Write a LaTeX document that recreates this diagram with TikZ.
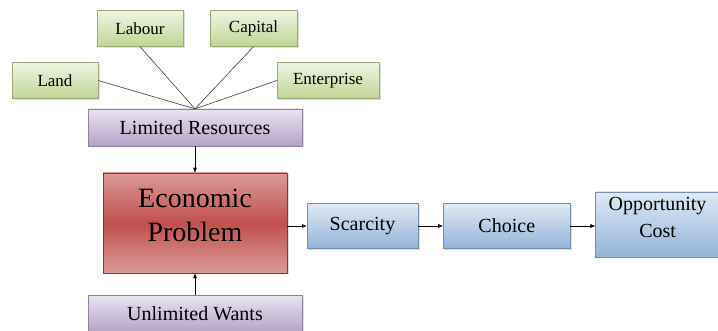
\documentclass[tikz,border=0pt]{standalone}
\usepackage{fontspec}
\setmainfont{Liberation Serif}
\usetikzlibrary{arrows.meta, positioning, shadows}

\definecolor{greenTop}{HTML}{EEF4E2}
\definecolor{greenBot}{HTML}{C0D595}
\definecolor{purpleTop}{HTML}{EAE4F0}
\definecolor{purpleBot}{HTML}{B3A2C7}
\definecolor{redEdge}{HTML}{DB9A98}
\definecolor{redMid}{HTML}{C0504D}
\definecolor{blueTop}{HTML}{E0E9F4}
\definecolor{blueBot}{HTML}{93B3DA}

\begin{document}
\begin{tikzpicture}[
    x=1pt, y=1pt,
    every node/.style={text=black, font=\rmfamily},
    card/.style={rectangle, inner sep=0pt, align=center,
        drop shadow={opacity=0.25, shadow xshift=1.5pt, shadow yshift=-1.5pt}},
    factor/.style={card, draw=greenBot!80!black, line width=0.3pt,
        top color=greenTop, bottom color=greenBot,
        minimum height=36pt, font=\fontsize{17}{19}\selectfont},
    source/.style={card, draw=purpleBot!80!black, line width=0.3pt,
        top color=purpleTop, bottom color=purpleBot,
        minimum width=214pt, minimum height=37pt, font=\fontsize{20}{22}\selectfont},
    problem/.style={card, draw=redMid!70!black, line width=0.5pt,
        top color=redEdge, bottom color=redEdge, middle color=redMid,
        minimum width=184pt, minimum height=100pt, font=\fontsize{28}{34}\selectfont},
    result/.style={card, draw=blueBot!80!black, line width=0.3pt,
        top color=blueTop, bottom color=blueBot,
        minimum height=45pt, font=\fontsize{20}{27}\selectfont},
    link/.style={draw=black!75, line width=0.6pt},
    arrow/.style={-{Latex[length=5pt,width=4pt]}, line width=0.6pt}
]
\useasboundingbox (0,0) rectangle (718,331);

% --- factors of production ---
\node (labour)     [factor, minimum width=86pt]  at (140,302.5) {Labour};
\node (capital)    [factor, minimum width=87pt]  at (253.5,302.5) {Capital};
\node (land)       [factor, minimum width=86pt]  at (55,250.5) {Land};
\node (enterprise) [factor, minimum width=102pt] at (328,250.5) {Enterprise};

% --- central column ---
\node (limited)   [source]  at (195,203.5) {Limited Resources};
\node (economic)  [problem] at (195,108) {Economic\\Problem\\[-29pt]\strut};
\node (unlimited) [source]  at (195,17) {Unlimited Wants};

% --- outcome chain ---
\node (scarcity) [result, minimum width=111pt] at (362.5,105) {Scarcity};
\node (choice)   [result, minimum width=127pt, right=25pt of scarcity] {Choice};
\node (oppcost)  [result, minimum width=124pt, minimum height=65pt,
                  right=25pt of choice, yshift=1.5pt] {Opportunity\\Cost\\[-20pt]\strut};

% --- links ---
\draw [link] (land.east) -- (limited.north);
\draw [link] (labour.south) -- (limited.north);
\draw [link] (capital.south) -- (limited.north);
\draw [link] (enterprise.west) -- (limited.north);

\draw [arrow] (limited) -- (economic);
\draw [arrow] (unlimited) -- (economic);
\draw [arrow] (economic.east |- scarcity.west) -- (scarcity.west);
\draw [arrow] (scarcity) -- (choice);
\draw [arrow] (choice.east) -- (oppcost.west |- choice.east);

\end{tikzpicture}
\end{document}
